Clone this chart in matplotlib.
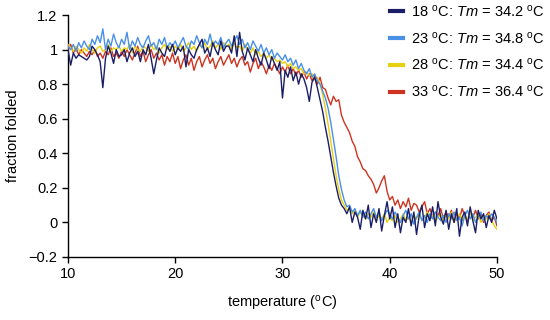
import numpy as np
import matplotlib
matplotlib.use('Agg')
import matplotlib.pyplot as plt
from matplotlib.ticker import FuncFormatter

plt.rcParams['font.family'] = ['Liberation Sans', 'DejaVu Sans']
plt.rcParams['mathtext.fontset'] = 'custom'
plt.rcParams['mathtext.rm'] = 'Liberation Sans'
plt.rcParams['mathtext.it'] = 'Liberation Sans:italic'

# temperature grid, 10 to 50 oC in 0.25 steps
temp = np.linspace(10, 50, 161)

# 18 oC
f18 = [1.0, 0.91, 0.98, 0.95, 0.97, 0.96, 0.95, 0.94, 0.96, 1.02, 1.0, 0.97, 0.93, 0.78, 0.95, 1.02, 0.98, 0.92, 1.0, 0.96,
       0.97, 1.0, 0.93, 0.98, 1.01, 0.96, 0.99, 0.93, 1.0, 0.97, 1.03, 0.95, 0.86, 0.94, 1.01, 0.98, 0.96, 1.02, 0.99, 1.03,
       0.97, 1.01, 0.99, 1.02, 0.9, 1.0, 0.97, 0.95, 1.0, 1.03, 1.06, 0.98, 1.01, 0.96, 1.04, 1.0, 0.97, 1.05, 0.99, 1.02,
       1.02, 0.98, 1.08, 0.96, 1.1, 0.99, 0.94, 1.01, 0.97, 0.93, 1.0, 0.95, 0.91, 0.98, 0.94, 0.89, 0.96, 0.92, 0.88, 0.93,
       0.72, 0.88, 0.84, 0.9, 0.82, 0.87, 0.8, 0.86, 0.83, 0.78, 0.7, 0.81, 0.84, 0.78, 0.71, 0.64, 0.55, 0.47, 0.38, 0.29,
       0.21, 0.14, 0.1, 0.08, 0.05, 0.09, 0.0, 0.06, 0.03, -0.04, 0.07, 0.02, 0.1, -0.03, 0.05, 0.0, 0.08, -0.05, 0.04, 0.12,
       0.02, 0.09, -0.03, 0.05, -0.06, 0.03, 0.0, 0.08, -0.02, 0.06, -0.07, 0.04, 0.1, -0.03, 0.05, 0.01, 0.09, -0.02, 0.12, 0.03,
       -0.01, 0.07, -0.04, 0.05, 0.0, 0.08, -0.08, 0.03, 0.06, -0.02, 0.09, 0.01, -0.06, 0.07, 0.02, 0.05, -0.03, 0.04, 0.0, 0.07,
       0.02]

# 23 oC
f23 = [1.02, 1.0, 1.03, 0.99, 1.04, 1.01, 1.05, 1.02, 1.0, 1.06, 1.03, 1.08, 1.04, 1.12, 1.0, 1.06, 1.02, 1.09, 1.04, 1.01,
       1.06, 1.03, 1.1, 1.0, 1.05, 1.02, 1.07, 1.03, 1.01, 1.05, 1.08, 1.02, 1.04, 1.0, 1.06, 1.03, 1.07, 1.01, 1.04, 1.02,
       1.05, 1.01, 1.04, 1.07, 1.02, 1.0, 1.05, 1.03, 1.08, 1.04, 1.01, 1.06, 1.03, 1.09, 1.02, 1.05, 1.03, 1.07, 1.01, 1.04,
       1.06, 1.02, 1.05, 1.08, 1.03, 1.06, 1.01, 1.04, 1.0, 1.05, 1.02, 0.99, 1.03, 0.98, 1.01, 0.97, 1.0, 0.95, 0.98, 0.96,
       0.94, 0.97, 0.93, 0.95, 0.91, 0.94, 0.89, 0.92, 0.88, 0.86, 0.89, 0.84, 0.86, 0.82, 0.8, 0.76, 0.72, 0.66, 0.58, 0.48,
       0.38, 0.27, 0.19, 0.13, 0.09, 0.1, 0.06, 0.08, 0.04, 0.07, 0.03, 0.06, 0.02, 0.05, 0.08, 0.03, 0.06, 0.01, 0.04, 0.07,
       0.05, 0.02, 0.06, 0.03, 0.0, 0.04, 0.07, 0.02, 0.05, -0.01, 0.03, 0.06, 0.01, 0.04, 0.0, 0.05, 0.02, 0.06, 0.03, 0.01,
       0.04, 0.0, 0.05, 0.02, 0.06, 0.01, 0.03, -0.02, 0.04, 0.07, 0.02, 0.05, 0.0, 0.03, 0.06, 0.01, 0.04, 0.02, 0.05, 0.03,
       0.0]

# 28 oC
f28 = [1.03, 1.01, 0.99, 1.02, 1.0, 0.98, 1.01, 0.99, 1.03, 1.0, 0.98, 1.01, 1.02, 0.99, 1.0, 1.03, 0.99, 1.01, 1.0, 1.02,
       0.99, 1.01, 1.0, 1.03, 0.98, 1.02, 1.0, 0.99, 1.02, 1.01, 0.99, 1.03, 1.0, 1.02, 0.98, 1.01, 1.03, 1.0, 1.02, 0.99,
       1.02, 1.0, 1.03, 0.99, 1.01, 1.04, 1.0, 1.02, 0.99, 1.03, 1.01, 1.04, 1.0, 1.02, 1.05, 1.01, 1.03, 1.0, 1.04, 1.02,
       1.03, 1.0, 1.04, 1.01, 1.02, 0.99, 1.03, 1.0, 0.98, 1.01, 0.97, 0.99, 0.96, 0.98, 0.95, 0.97, 0.94, 0.95, 0.93, 0.94,
       0.92, 0.93, 0.9, 0.92, 0.89, 0.9, 0.88, 0.89, 0.86, 0.87, 0.85, 0.86, 0.83, 0.84, 0.8, 0.74, 0.66, 0.57, 0.47, 0.37,
       0.27, 0.19, 0.13, 0.1, 0.07, 0.08, 0.05, 0.07, 0.03, 0.06, 0.04, 0.02, 0.05, 0.03, 0.06, 0.01, 0.04, 0.02, 0.05, 0.0,
       0.03, 0.01, 0.04, 0.0, 0.02, 0.05, 0.01, 0.03, 0.0, 0.04, 0.02, 0.05, 0.01, 0.03, 0.06, 0.02, 0.04, 0.0, 0.03, 0.05,
       0.01, 0.04, 0.02, 0.06, 0.0, 0.03, 0.05, 0.01, 0.04, 0.02, 0.06, 0.01, 0.03, 0.05, 0.0, 0.04, 0.02, 0.05, 0.01, -0.02,
       -0.04]

# 33 oC
f33 = [1.0, 1.03, 0.98, 1.01, 0.97, 1.0, 0.98, 0.96, 0.99, 0.97, 1.0, 0.96, 0.98, 0.95, 0.99, 0.97, 1.01, 0.96, 0.98, 0.95,
       0.99, 0.96, 1.0, 0.97, 0.94, 0.98, 1.02, 0.96, 0.99, 0.93, 0.97, 1.0, 0.95, 0.98, 0.94, 0.97, 0.91, 0.96, 0.93, 0.98,
       0.92, 0.96, 0.89, 0.94, 0.97, 0.91, 0.95, 0.88, 0.93, 0.96, 0.9, 0.94, 0.97, 0.92, 0.95, 0.89, 0.93, 0.96, 0.91, 0.94,
       0.97, 0.92, 0.95, 0.9, 0.94, 0.96, 0.91, 0.93, 0.87, 0.92, 0.95, 0.89, 0.93, 0.9, 0.86, 0.91, 0.88, 0.92, 0.89, 0.86,
       0.9, 0.87, 0.91, 0.86, 0.89, 0.85, 0.88, 0.84, 0.87, 0.83, 0.86, 0.82, 0.85, 0.8, 0.84, 0.78, 0.77, 0.72, 0.68, 0.73,
       0.7, 0.71, 0.62, 0.58, 0.55, 0.52, 0.47, 0.44, 0.38, 0.35, 0.31, 0.3, 0.27, 0.25, 0.22, 0.17, 0.2, 0.24, 0.27, 0.18,
       0.13, 0.15, 0.1, 0.13, 0.08, 0.12, 0.09, 0.14, 0.07, 0.11, 0.1, 0.06, 0.09, 0.12, 0.05, 0.08, 0.03, 0.06, 0.04, 0.08,
       0.02, 0.06, 0.03, 0.07, 0.0, 0.05, 0.02, 0.08, 0.04, 0.01, 0.06, 0.03, 0.07, 0.02, 0.05, 0.0, 0.04, 0.06, 0.01, 0.03,
       -0.02]

labels = [r'18 $^{\rm o}$C: $Tm$ = 34.2 $^{\rm o}$C',
          r'23 $^{\rm o}$C: $Tm$ = 34.8 $^{\rm o}$C',
          r'28 $^{\rm o}$C: $Tm$ = 34.4 $^{\rm o}$C',
          r'33 $^{\rm o}$C: $Tm$ = 36.4 $^{\rm o}$C']
colo = ['#1b1e66', '#4a90e6', '#e6d010', '#cc3320']

fig = plt.figure(figsize=(5.5, 3.2), dpi=100)
ax = fig.add_axes([0.1236, 0.197, 0.78, 0.756])

series = [f18, f23, f28, f33]
lines = []
for i, s in enumerate(series):
    ln, = ax.plot(temp, s, color=colo[i], lw=1.0, zorder=10 - i, label=labels[i])
    lines.append(ln)

ax.set_xlim(10, 50)
ax.set_ylim(-0.2, 1.2)
ax.set_xticks([10, 20, 30, 40, 50])
ax.set_yticks([-0.2, 0, 0.2, 0.4, 0.6, 0.8, 1.0, 1.2])
ax.yaxis.set_major_formatter(FuncFormatter(lambda v, p: ('%g' % round(v, 2)).replace('-', '\u2212')))
ax.tick_params(direction='out', length=4, width=1, labelsize=10.5, colors='black')
for sp in ['top', 'right']:
    ax.spines[sp].set_visible(False)
for sp in ['left', 'bottom']:
    ax.spines[sp].set_linewidth(1.0)

ax.set_xlabel(r'temperature ($^{\rm o}$C)', fontsize=10.5, labelpad=9)
ax.set_ylabel('fraction folded', fontsize=10.5, labelpad=6)

leg = fig.legend(handles=lines, labels=labels, loc='upper left', bbox_to_anchor=(0.709, 0.99),
                 frameon=False, fontsize=10.5, handlelength=0.9, handletextpad=0.55,
                 labelspacing=0.75, borderpad=0.0, borderaxespad=0.0)
for h in leg.legend_handles:
    h.set_linewidth(3)

fig.savefig('out.png', dpi=100)
